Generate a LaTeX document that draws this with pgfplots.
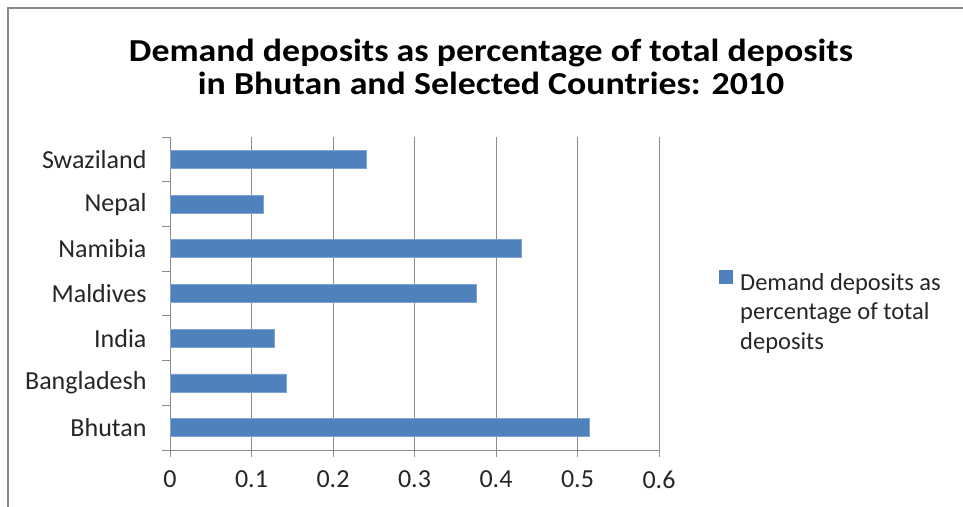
\documentclass[border=0pt]{standalone}
\usepackage{pgfplots}
\pgfplotsset{compat=1.18}
\usepackage{fontspec}
\setmainfont{Carlito}
\definecolor{barblue}{HTML}{4F81BD}
\definecolor{baredge}{HTML}{7EA3D3}
\definecolor{gridgray}{HTML}{8C8C8C}
\definecolor{framegray}{HTML}{8A8A8A}
\begin{document}
\begin{tikzpicture}
\useasboundingbox (0pt,0pt) rectangle (963pt,506pt);
\fill[white] (0pt,0pt) rectangle (963pt,506pt);
\draw[framegray, line width=1.5pt] (8pt,-2pt) -- (8pt,498pt) -- (965pt,498pt);
\begin{axis}[
  at={(170pt,56pt)}, anchor=south west,
  scale only axis, width=489pt, height=313pt,
  xmin=0, xmax=0.6, ymin=-0.5, ymax=6.5,
  xtick={0,0.1,0.2,0.3,0.4,0.5,0.6},
  xticklabels={0,0.1,0.2,0.3,0.4,0.5,0.6},
  ytick={0,1,2,3,4,5,6},
  yticklabels={Bhutan,Bangladesh,India,Maldives,Namibia,Nepal,Swaziland},
  minor ytick={-0.5,0.5,1.5,2.5,3.5,4.5,5.5,6.5},
  axis lines*=left, axis line style={gridgray, line width=1pt, -},
  xmajorgrids, major grid style={gridgray, line width=1pt},
  tick align=outside,
  major tick length=7pt, minor tick length=8pt,
  tick style={gridgray, line width=1pt},
  major y tick style={draw=none},
  tick label style={font=\fontsize{26}{28}\selectfont, text=black!85},
  yticklabel style={xshift=-13pt},
  xticklabel style={yshift=-10pt},
  /pgf/number format/assume math mode=true,
  legend style={at={(1.117,0.589)}, anchor=north west, draw=none, fill=none,
    font=\fontsize{24.5}{29.5}\selectfont, text=black!85, cells={anchor=west}},
  legend image code/.code={\fill[barblue] (0pt,-2pt) rectangle (13pt,11pt); \path (18pt,4pt);},
  clip=false,
]
\addplot[xbar, bar width=18pt, fill=barblue, draw=baredge, line width=0.8pt] coordinates {
  (0.515,0) (0.143,1) (0.128,2) (0.376,3) (0.431,4) (0.114,5) (0.241,6)
};
\addlegendentry{\begin{tabular}[t]{@{}l@{}}Demand deposits as\\percentage of total\\deposits\end{tabular}}
\end{axis}
\node[font=\fontsize{32}{33.5}\selectfont\bfseries, align=center, text=black, xscale=1.12, transform shape, anchor=base] at (491pt,411pt) {Demand deposits as percentage of total deposits\\in Bhutan and Selected Countries: 2010};
\end{tikzpicture}
\end{document}
